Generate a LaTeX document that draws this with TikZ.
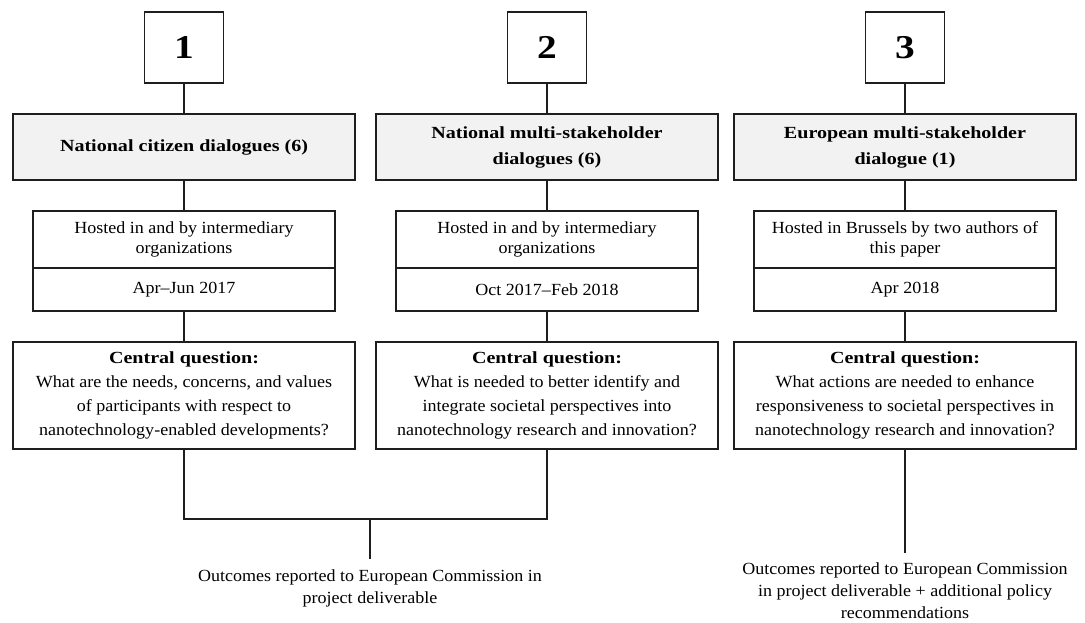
\documentclass[tikz,border=0pt]{standalone}
\usepackage{fontspec}
\setmainfont{Liberation Serif}[FakeStretch=1.06, BoldFeatures={FakeStretch=1.18}]
\definecolor{boxgrey}{HTML}{F2F2F2}
\definecolor{lineblack}{HTML}{1E1E1E}
\begin{document}
\begin{tikzpicture}[x=0.75pt, y=-0.75pt, line width=0.9pt, draw=lineblack,
	numbox/.style={draw, minimum width=59.25pt, minimum height=53.25pt, inner sep=0pt, font=\bfseries\fontsize{25}{28}\selectfont},
	titlebox/.style={draw, fill=boxgrey, minimum width=256.5pt, minimum height=49.5pt, align=center, inner sep=2pt, font=\bfseries\fontsize{12.75}{19.5}\selectfont},
	hostbox/.style={draw, minimum width=226.5pt, minimum height=42.75pt, align=center, inner sep=2pt, font=\fontsize{12.75}{15}\selectfont},
	datebox/.style={draw, minimum width=226.5pt, minimum height=32.25pt, align=center, inner sep=2pt, font=\fontsize{12.75}{15}\selectfont},
	questbox/.style={draw, minimum width=256.5pt, minimum height=80.25pt, align=center, inner sep=2pt, font=\fontsize{12.75}{17.8}\selectfont},
	outtext/.style={align=center, inner sep=7pt, font=\fontsize{12.75}{16.5}\selectfont}]
	
	\useasboundingbox (0,0) rectangle (1085,622);
	
	% Number boxes
	\foreach \i/\x in {1/184,2/547,3/905}
	\node[numbox] (num\i) at (\x,47.5) {\i};
	
	% Dialogue types
	\node[titlebox] (title1) at (184,147) {National citizen dialogues (6)};
	\node[titlebox] (title2) at (547,147) {National multi-stakeholder\\dialogues (6)};
	\node[titlebox] (title3) at (905,147) {European multi-stakeholder\\dialogue (1)};
	
	% Hosts
	\node[hostbox] (host1) at (184,239.5) {Hosted in and by intermediary\\organizations};
	\node[hostbox] (host2) at (547,239.5) {Hosted in and by intermediary\\organizations};
	\node[hostbox] (host3) at (905,239.5) {Hosted in Brussels by two authors of\\this paper};
	
	% Dates
	\node[datebox] (date1) at (184,289.5) {Apr–Jun 2017};
	\node[datebox] (date2) at (547,289.5) {Oct 2017–Feb 2018};
	\node[datebox] (date3) at (905,289.5) {Apr 2018};
	
	% Central questions
	\node[questbox] (quest1) at (184,395.5) {\textbf{Central question:}\\What are the needs, concerns, and values\\of participants with respect to\\nanotechnology-enabled developments?};
	\node[questbox] (quest2) at (547,395.5) {\textbf{Central question:}\\What is needed to better identify and\\integrate societal perspectives into\\nanotechnology research and innovation?};
	\node[questbox] (quest3) at (905,395.5) {\textbf{Central question:}\\What actions are needed to enhance\\responsiveness to societal perspectives in\\nanotechnology research and innovation?};
	
	% Outcomes
	\node[outtext] (out1) at (370,588) {Outcomes reported to European Commission in\\project deliverable};
	\node[outtext] (out3) at (905,591) {Outcomes reported to European Commission\\in project deliverable + additional policy\\recommendations};
	
	% Connections down each column
	\foreach \i in {1,2,3} {
		\draw (num\i) -- (title\i);
		\draw (title\i) -- (host\i);
		\draw (date\i) -- (quest\i);
	}
	
	% Joining columns 1 and 2
	\coordinate (join) at (370,519);
	\draw (quest1) |- (join) -| (quest2);
	\draw (join) -- (out1);
	\draw (quest3) -- (out3);
	
\end{tikzpicture}
\end{document}
